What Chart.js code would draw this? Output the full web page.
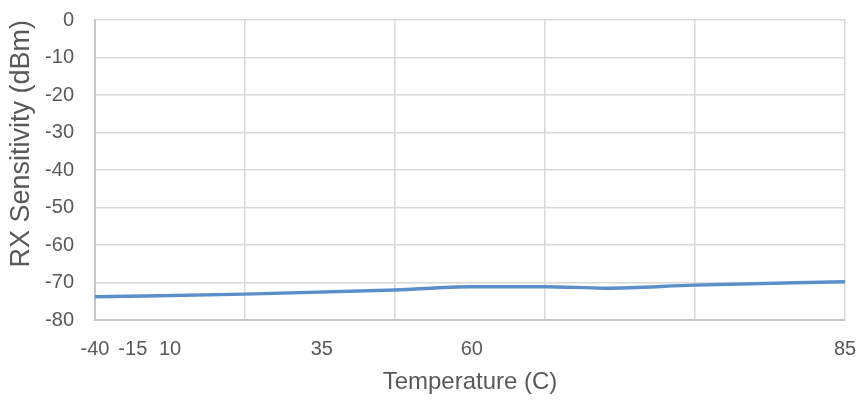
<!DOCTYPE html>
<html lang="en"><head><meta charset="UTF-8"><title>RX Sensitivity vs Temperature</title>
<style>
  html,body{margin:0;padding:0;background:#fff;}
  canvas{display:block;}
</style>
<script src="https://cdn.jsdelivr.net/npm/chart.js"></script>
</head><body>
  <canvas id="c" width="862" height="401"></canvas>
  <script>
    // measured points (temperature C -> dBm)
    const temps       = [-40, -15, 10, 22.5, 35, 45, 60, 85];
    const sensitivity = [-73.8, -73.1, -72.0, -71.1, -71.1, -71.5, -70.7, -69.8];

    // gridlines fall every 25 C, but the original labels sit off-grid
    const gridTemps  = [-40, -15, 10, 35, 60, 85];
    const tickLabels = ['-40', '-15', '10', '35', '60', '85'];
    const labelTemps = [-40, -33.7, -27.5, -2.2, 22.8, 85];

    const gray = '#595959';
    const font = 'Liberation Sans, Arial, sans-serif';

    // stop the scales from pushing the plot area inward for label overhang
    const noPad = s => { s.paddingTop = 0; s.paddingBottom = 0; s.paddingLeft = 0; s.paddingRight = 0; };

    new Chart(document.getElementById('c'), {
      type: 'scatter',
      data: {
        datasets: [{
          data: temps.map((t, i) => ({ x: t, y: sensitivity[i] })),
          showLine: true,
          borderColor: '#5b8fc9',
          borderWidth: 3.5,
          pointRadius: 0,
          tension: 0.4,
          cubicInterpolationMode: 'monotone'
        }]
      },
      options: {
        responsive: false,
        animation: false,
        layout: { padding: { top: 20, right: 17, bottom: 0, left: 0 } },
        plugins: { legend: { display: false }, tooltip: { enabled: false } },
        scales: {
          x: {
            type: 'linear', position: 'bottom', min: -40, max: 85,
            afterBuildTicks: s => { s.ticks = gridTemps.map(v => ({ value: v })); },
            afterFit: s => { s.height = 0; noPad(s); },
            ticks: { display: false },
            grid: { color: '#d9d9d9', lineWidth: 1.5, drawTicks: false },
            border: { color: '#c6c6c6', width: 2 }
          },
          x2: {
            type: 'linear', position: 'bottom', min: -40, max: 85,
            afterBuildTicks: s => { s.ticks = labelTemps.map(v => ({ value: v })); },
            afterFit: s => { s.height = 81; noPad(s); },
            ticks: {
              autoSkip: false, maxRotation: 0, padding: 17,
              color: gray, font: { family: font, size: 20 },
              callback: (v, i) => tickLabels[i]
            },
            grid: { display: false, drawTicks: false },
            border: { display: false },
            title: {
              display: true, text: 'Temperature (C)', color: gray,
              font: { family: font, size: 24 }, padding: { top: 0, bottom: 4 }
            }
          },
          y: {
            min: -80, max: 0,
            afterFit: s => { s.width = 95; noPad(s); },
            ticks: { stepSize: 10, padding: 21, color: gray, font: { family: font, size: 20 } },
            grid: { color: '#d9d9d9', lineWidth: 1.5, drawTicks: false },
            border: { color: '#c6c6c6', width: 2 },
            title: {
              display: true, text: 'RX Sensitivity (dBm)', color: gray, align: 'end',
              font: { family: font, size: 27 }, padding: { top: 5, bottom: 0 }
            }
          }
        }
      }
    });
  </script>
</body></html>
